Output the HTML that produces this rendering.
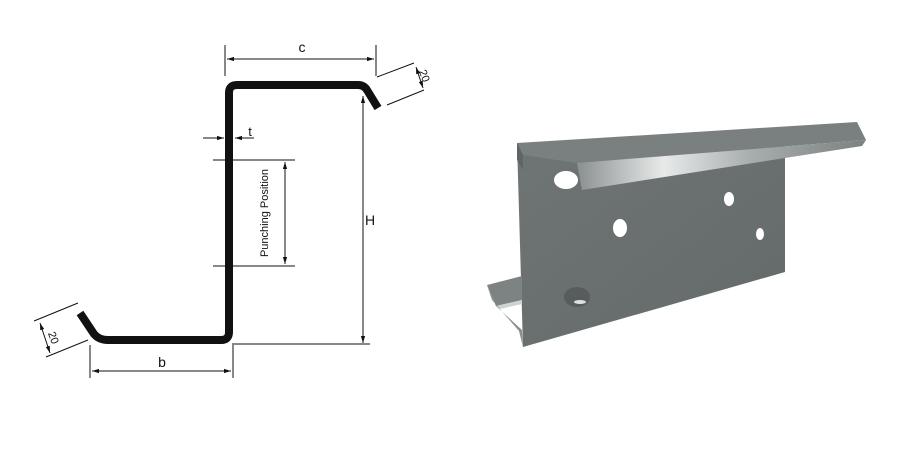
<!DOCTYPE html>
<html><head><style>
html,body{margin:0;padding:0;background:#fff;}
svg{display:block}
text{font-family:"Liberation Sans",sans-serif;fill:#111}
</style></head><body>
<svg width="900" height="450" viewBox="0 0 900 450" xmlns="http://www.w3.org/2000/svg">
<defs>
<marker id="a" viewBox="0 0 10 10" refX="10" refY="5" markerWidth="7" markerHeight="7" orient="auto-start-reverse"><path d="M0,2 L10,5 L0,8 z" fill="#111"/></marker>
<linearGradient id="lip" x1="0" y1="0" x2="1" y2="0">
<stop offset="0" stop-color="#8a9090"/><stop offset="0.3" stop-color="#e8eaea"/><stop offset="0.6" stop-color="#a8adad"/><stop offset="1" stop-color="#7b8181"/></linearGradient>
<linearGradient id="web" x1="0" y1="0" x2="1" y2="1">
<stop offset="0" stop-color="#6f7575"/><stop offset="1" stop-color="#646a6a"/></linearGradient>
</defs>
<!-- profile -->
<path d="M80,313 L94,334 Q99,340 108,340 L221,340 Q229,340 229,332 L229,93 Q229,85 237,85 L358,85 Q364,85 367,90 L378,108" fill="none" stroke="#111" stroke-width="8"/>
<g stroke="#111" stroke-width="1" fill="none">
<line x1="225" y1="45" x2="225" y2="76"/><line x1="376" y1="45" x2="376" y2="76"/>
<line x1="227" y1="59" x2="374" y2="59" marker-start="url(#a)" marker-end="url(#a)"/>
<line x1="232" y1="344" x2="370" y2="344"/>
<line x1="363" y1="96" x2="363" y2="343" marker-start="url(#a)" marker-end="url(#a)"/>
<line x1="213" y1="160" x2="295" y2="160"/><line x1="213" y1="266" x2="295" y2="266"/>
<line x1="285" y1="162" x2="285" y2="264" marker-start="url(#a)" marker-end="url(#a)"/>
<line x1="203" y1="138" x2="224" y2="138" marker-end="url(#a)"/>
<line x1="254" y1="138" x2="235" y2="138" marker-end="url(#a)"/>
<line x1="90" y1="345" x2="90" y2="378"/><line x1="233" y1="345" x2="233" y2="378"/>
<line x1="92" y1="371" x2="231" y2="371" marker-start="url(#a)" marker-end="url(#a)"/>
<line x1="377" y1="77" x2="414" y2="63"/><line x1="387" y1="105" x2="424" y2="90"/>
<line x1="416" y1="67" x2="423" y2="88" marker-start="url(#a)" marker-end="url(#a)"/>
<line x1="34" y1="321" x2="78" y2="303"/><line x1="46" y1="357" x2="88" y2="340"/>
<line x1="40" y1="323" x2="50" y2="353" marker-start="url(#a)" marker-end="url(#a)"/>
</g>
<text x="302" y="52" font-size="14" text-anchor="middle">c</text>
<text x="370" y="225" font-size="14" text-anchor="middle">H</text>
<text x="250" y="136" font-size="13" text-anchor="middle">t</text>
<text x="162" y="367" font-size="14" text-anchor="middle">b</text>
<text transform="translate(268,213) rotate(-90)" font-size="11" text-anchor="middle">Punching Position</text>
<text transform="translate(421,77) rotate(70)" font-size="11" text-anchor="middle">20</text>
<text transform="translate(50,339) rotate(70)" font-size="11" text-anchor="middle">20</text>
<!-- 3D part -->
<!-- web -->
<polygon points="517,143 785,140 785,272 523,347" fill="url(#web)"/>
<!-- bottom flange -->
<polygon points="487,285 522,276 522,300 496,306" fill="#7d8383"/>
<polygon points="496,306 522,300 522,304 500,309" fill="#cfd2d2"/>
<polygon points="487,285 496,306 522,330 523,347 519,331 492,300" fill="#8a9090"/>
<!-- holes -->
<ellipse cx="566" cy="180" rx="12" ry="9" fill="#fff"/>
<ellipse cx="620" cy="228" rx="7" ry="9" fill="#fff"/>
<ellipse cx="729" cy="199" rx="5" ry="7" fill="#fff"/>
<ellipse cx="760" cy="234" rx="4" ry="6" fill="#fff"/>
<ellipse cx="577" cy="297" rx="13" ry="10" fill="#575d5d"/>
<ellipse cx="580" cy="302" rx="6" ry="2" fill="#dfe1e1"/>
<!-- top flange -->
<polygon points="517,143 857,122 866,140 577,163 523,155" fill="#7a8080"/>
<polygon points="517,143 523,155 523,170 517,160" fill="#5f6565"/>
<polygon points="577,163 866,140 862,146 785,158 582,190" fill="url(#lip)"/>
</svg>
</body></html>
